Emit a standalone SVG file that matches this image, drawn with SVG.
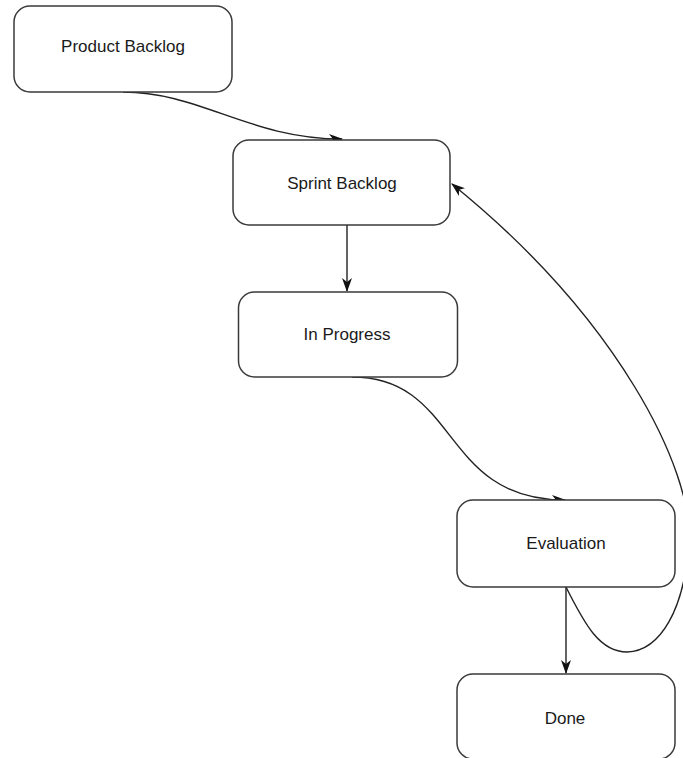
<svg xmlns="http://www.w3.org/2000/svg" width="683" height="758" viewBox="0 0 683 758">
<style>
.box{fill:#fff;stroke:#3a3a3a;stroke-width:1.5}
.lbl{font-family:"Liberation Sans",Arial,sans-serif;font-size:17px;fill:#1a1a1a;text-anchor:middle}
.edge{fill:none;stroke:#222;stroke-width:1.4}
</style>
<defs>
<marker id="arr" viewBox="0 0 14 10" refX="13" refY="5" markerWidth="14" markerHeight="10" markerUnits="userSpaceOnUse" orient="auto">
<path d="M0,0 L14,5 L0,10 L4,5 z" fill="#111"/>
</marker>
</defs>
<rect width="683" height="758" fill="#fff"/>
<g id="connectors">
<path class="edge" d="M123,92 C200,92 250,139 342,139" marker-end="url(#arr)"/>
<path class="edge" d="M347,225 L347,291" marker-end="url(#arr)"/>
<path class="edge" d="M352,377 C460,377 440,500 565,500" marker-end="url(#arr)"/>
<path class="edge" d="M566,587 L566,673" marker-end="url(#arr)"/>
<path class="edge" d="M566,587 C585,625 600,652 627,652 C660,651 685,610 689,540 C692,470 620,320 452,184" marker-end="url(#arr)"/>
</g>
<g id="product-backlog">
<rect class="box" x="14" y="6" width="218" height="86" rx="16"/>
<text class="lbl" x="123" y="52">Product Backlog</text>
</g>
<g id="sprint-backlog">
<rect class="box" x="233" y="140" width="217" height="85" rx="16"/>
<text class="lbl" x="342" y="189">Sprint Backlog</text>
</g>
<g id="in-progress">
<rect class="box" x="238.5" y="292" width="219" height="85" rx="16"/>
<text class="lbl" x="347" y="340">In Progress</text>
</g>
<g id="evaluation">
<rect class="box" x="457" y="500" width="218" height="87" rx="16"/>
<text class="lbl" x="566" y="549">Evaluation</text>
</g>
<g id="done">
<rect class="box" x="457" y="674" width="218" height="85" rx="16"/>
<text class="lbl" x="565" y="724">Done</text>
</g>
</svg>
